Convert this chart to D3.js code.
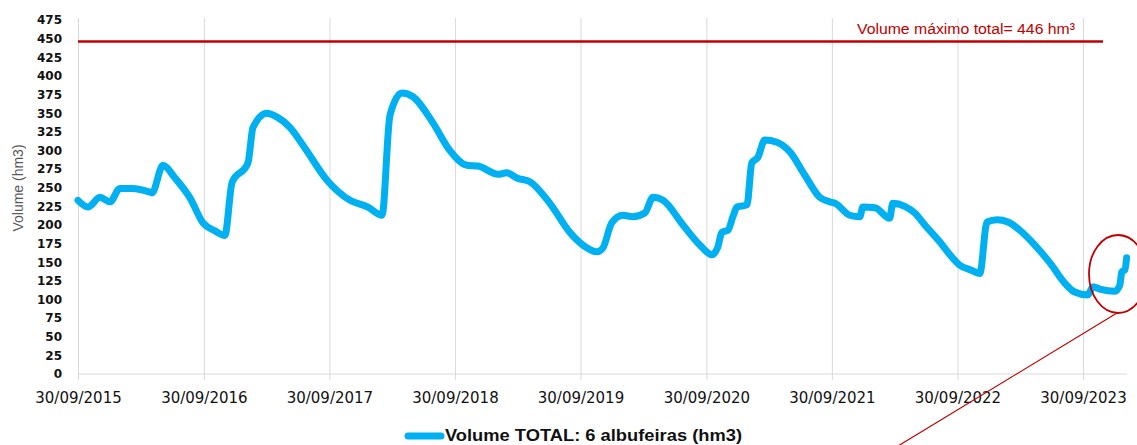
<!DOCTYPE html>
<html>
<head>
<meta charset="utf-8">
<script src="https://cdn.jsdelivr.net/npm/d3@7"></script>
<style>
  html, body { margin: 0; padding: 0; background: #fff; }
  svg { display: block; }
</style>
</head>
<body>
<svg id="chart" width="1137" height="445"></svg>
<script>
const dates = [
  "2015-09-30","2015-10-29","2015-12-03","2016-01-01","2016-01-30","2016-03-05","2016-04-26","2016-05-02",
  "2016-06-03","2016-07-08","2016-08-21","2016-09-27","2016-11-01","2016-11-30","2016-12-21","2017-02-05",
  "2017-02-20","2017-04-01","2017-04-30","2017-06-07","2017-07-21","2017-09-23","2017-11-29","2018-01-20",
  "2018-03-02","2018-03-25","2018-04-29","2018-05-31","2018-07-28","2018-09-15","2018-11-04","2018-12-06",
  "2019-02-02","2019-02-28","2019-03-29","2019-05-06","2019-07-03","2019-08-30","2019-10-07","2019-11-17",
  "2019-12-04","2019-12-30","2020-01-31","2020-02-29","2020-04-04","2020-04-28","2020-05-27","2020-07-24",
  "2020-09-11","2020-10-16","2020-11-02","2020-11-14","2020-12-02","2020-12-16","2020-12-28","2021-01-26",
  "2021-02-09","2021-02-27","2021-03-19","2021-04-23","2021-05-31","2021-07-13","2021-08-26","2021-09-24",
  "2021-10-09","2021-11-21","2021-12-20","2021-12-29","2022-02-02","2022-03-17","2022-03-26","2022-04-30",
  "2022-05-29","2022-06-27","2022-08-10","2022-09-08","2022-10-07","2022-11-11","2022-12-04","2022-12-25",
  "2023-01-23","2023-02-24","2023-03-30","2023-05-13","2023-06-26","2023-08-08","2023-09-06","2023-10-14",
  "2023-10-29","2023-11-18","2024-01-01","2024-01-15","2024-01-21","2024-01-30","2024-02-04"
];
const volumes = [
  233, 224, 237, 231, 249, 249, 244, 243,
  280, 263, 236, 203, 192, 186, 257, 283,
  331, 350, 345, 331, 303, 260, 233, 224,
  213, 347, 377, 372, 337, 300, 280, 279,
  268, 270, 263, 258, 229, 190, 173, 164,
  169, 203, 213, 211, 216, 237, 233, 200,
  173, 160, 170, 190, 193, 211, 224, 227,
  283, 291, 314, 311, 298, 267, 237, 231,
  229, 213, 211, 224, 223, 209, 229, 225,
  216, 200, 177, 160, 146, 139, 135, 204,
  207, 204, 193, 173, 149, 122, 110, 106,
  117, 114, 111, 119, 137, 140, 156
];
const yTicks = [0,25,50,75,100,125,150,175,200,225,250,275,300,325,350,375,400,425,450,475];
const xTickDates = ["2015-09-30","2016-09-30","2017-09-30","2018-09-30","2019-09-30","2020-09-30","2021-09-30","2022-09-30","2023-09-30"];
const maxVolume = 446;
const maxLabel = "Volume máximo total= 446 hm³";
const seriesName = "Volume TOTAL: 6 albufeiras (hm3)";
const yTitle = "Volume (hm3)";

const parse = d3.timeParse("%Y-%m-%d");
const data = dates.map((d, i) => ({ date: parse(d), value: volumes[i] }));

const svg = d3.select("#chart");
const x = d3.scaleTime()
  .domain([parse("2015-09-30"), parse("2024-02-05")])
  .range([78, 1127]);
const y = d3.scaleLinear().domain([0, 475]).range([374, 20]);

// vertical gridlines
const xAxis = d3.axisBottom(x)
  .tickValues(xTickDates.map(parse))
  .tickFormat(d3.timeFormat("%d/%m/%Y"))
  .tickSize(-(374 - 18))
  .tickPadding(18);
const gx = svg.append("g").attr("transform", "translate(0,374)").call(xAxis);
gx.select(".domain").remove();
gx.selectAll(".tick line").attr("stroke", "#d9d9d9").attr("stroke-width", 1).attr("y2", -(374 - 18)).attr("y1", 6);
gx.selectAll(".tick text")
  .attr("font-family", "DejaVu Sans").attr("font-size", "15px").attr("fill", "#111")
  .attr("dy", 0).attr("y", 28.7);

// baseline
svg.append("line").attr("x1", 78).attr("x2", 1127).attr("y1", 374).attr("y2", 374)
  .attr("stroke", "#d9d9d9").attr("stroke-width", 1);

// y axis labels
const yAxis = d3.axisLeft(y).tickValues(yTicks).tickSize(0).tickPadding(16);
const gy = svg.append("g").attr("transform", "translate(78,0)").call(yAxis);
gy.select(".domain").remove();
gy.selectAll(".tick text")
  .attr("font-family", "DejaVu Sans").attr("font-weight", "bold").attr("font-size", "12px").attr("fill", "#111");

// y title
svg.append("text")
  .attr("transform", "translate(23,188) rotate(-90)")
  .attr("text-anchor", "middle")
  .attr("font-family", "Liberation Sans").attr("font-size", "14px").attr("fill", "#595959")
  .text(yTitle);

// max line
svg.append("line")
  .attr("x1", 78).attr("x2", 1103).attr("y1", y(maxVolume)).attr("y2", y(maxVolume))
  .attr("stroke", "#C00000").attr("stroke-width", 2.5);
svg.append("text")
  .attr("x", 857).attr("y", 34)
  .attr("font-family", "Liberation Sans").attr("font-size", "15.5px").attr("fill", "#C00000")
  .attr("textLength", 218).attr("lengthAdjust", "spacingAndGlyphs")
  .text(maxLabel);

// series line
const line = d3.line().x(d => x(d.date)).y(d => y(d.value)).curve(d3.curveMonotoneX);
svg.append("path")
  .datum(data)
  .attr("d", line)
  .attr("fill", "none")
  .attr("stroke", "#00B0F0")
  .attr("stroke-width", 7)
  .attr("stroke-linejoin", "round")
  .attr("stroke-linecap", "round");

// annotation ellipse and pointer line
svg.append("ellipse")
  .attr("cx", 1118).attr("cy", 274).attr("rx", 29).attr("ry", 39)
  .attr("fill", "none").attr("stroke", "#C00000").attr("stroke-width", 1.8);
svg.append("line")
  .attr("x1", 1117).attr("y1", 313).attr("x2", 898).attr("y2", 446)
  .attr("stroke", "#C00000").attr("stroke-width", 1.2);

// legend
svg.append("line")
  .attr("x1", 408).attr("x2", 441).attr("y1", 436).attr("y2", 436)
  .attr("stroke", "#00B0F0").attr("stroke-width", 7).attr("stroke-linecap", "round");
svg.append("text")
  .attr("x", 445).attr("y", 440.5)
  .attr("font-family", "Liberation Sans").attr("font-weight", "bold").attr("font-size", "16.5px").attr("fill", "#111")
  .attr("textLength", 297).attr("lengthAdjust", "spacingAndGlyphs")
  .text(seriesName);
</script>
</body>
</html>
